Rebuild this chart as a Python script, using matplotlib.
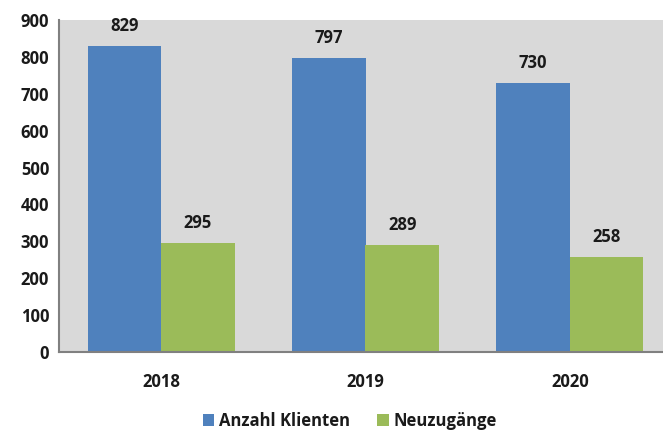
import matplotlib
matplotlib.use("Agg")
import matplotlib.pyplot as plt
import numpy as np

years = ["2018", "2019", "2020"]
klienten = [829, 797, 730]
neuzugaenge = [295, 289, 258]
series_names = ["Anzahl Klienten", "Neuzugänge"]
yticks = [0, 100, 200, 300, 400, 500, 600, 700, 800, 900]

plt.rcParams['font.family'] = ['Open Sans', 'DejaVu Sans']

fig = plt.figure(figsize=(6.63, 4.32), dpi=100)
W, H = 663, 432
left, right, top, bottom = 59, 672, 20, 352
ax = fig.add_axes([left / W, 1 - bottom / H, (right - left) / W, (bottom - top) / H])
ax.set_facecolor('#d9d9d9')

x = np.arange(len(years))
w = 0.36
b1 = ax.bar(x - w / 2, klienten, w, color='#4f81bd', label=series_names[0])
b2 = ax.bar(x + w / 2, neuzugaenge, w, color='#9bbb59', label=series_names[1])

for bars in (b1, b2):
    for r in bars:
        ax.annotate(f"{int(r.get_height())}", (r.get_x() + r.get_width() / 2, r.get_height()),
                    xytext=(0, 8), textcoords='offset points', ha='center', va='bottom',
                    fontsize=12, fontweight='bold', color='#1a1a1a')

ax.set_xlim(-0.5, 2.5)
ax.set_ylim(0, 900)
ax.set_yticks(yticks)
ax.set_xticks(x)
ax.set_xticklabels(years)
ax.tick_params(axis='both', length=0, labelsize=12, colors='#1a1a1a')
ax.tick_params(axis='y', pad=7)
ax.tick_params(axis='x', pad=15)
for lab in ax.get_xticklabels() + ax.get_yticklabels():
    lab.set_fontweight('bold')
for s in ['top', 'right']:
    ax.spines[s].set_visible(False)
for s in ['left', 'bottom']:
    ax.spines[s].set_color('#808080')
    ax.spines[s].set_linewidth(1.5)

leg = fig.legend(handles=[b1, b2], labels=series_names, loc='center', bbox_to_anchor=(350 / W, 1 - 421 / H),
                 ncol=2, frameon=False, handlelength=0.7, handleheight=0.7, handletextpad=0.3,
                 columnspacing=1.6, prop={'weight': 'bold', 'size': 12})
for t in leg.get_texts():
    t.set_color('#1a1a1a')

fig.savefig('out.png', dpi=100)
